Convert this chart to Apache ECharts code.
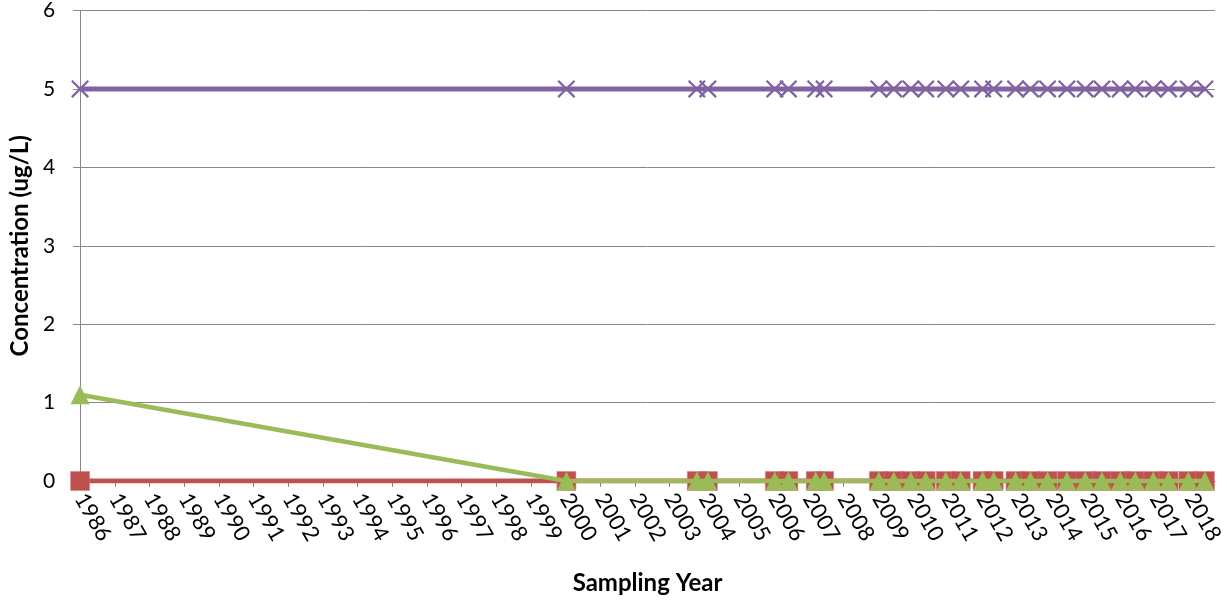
<!DOCTYPE html>
<html>
<head>
<meta charset="utf-8">
<script src="https://cdn.jsdelivr.net/npm/echarts@6/dist/echarts.min.js"></script>
<style>
html,body{margin:0;padding:0;background:#fff;}
#chart{width:1227px;height:601px;}
</style>
</head>
<body>
<div id="chart"></div>
<script>
// Sampling dates (decimal years)
const sampleDates = [1986.0, 2000.02, 2003.78, 2004.10, 2006.03, 2006.42, 2007.21, 2007.45,
  2009.03, 2009.46, 2009.95, 2010.38, 2010.96, 2011.39, 2012.02, 2012.34, 2012.97, 2013.40,
  2013.89, 2014.45, 2014.98, 2015.46, 2015.99, 2016.42, 2016.94, 2017.38, 2017.95, 2018.43];
// Series values (ug/L)
const purpleValues = [5,5,5,5,5,5,5,5, 5,5,5,5,5,5,5,5,5,5, 5,5,5,5,5,5,5,5,5,5];
const redValues    = [0,0,0,0,0,0,0,0, 0,0,0,0,0,0,0,0,0,0, 0,0,0,0,0,0,0,0,0,0];
const greenValues  = [1.1,0,0,0,0,0,0,0, 0,0,0,0,0,0,0,0,0,0, 0,0,0,0,0,0,0,0,0,0];
// Axis ranges / ticks
const xMin = 1986, xMax = 2018.72, yMin = 0, yMax = 6;

const pairs = vals => sampleDates.map((d, i) => [d, vals[i]]);
const FONT = 'Lato';
const xPath = 'path://M0,0.9 L0.9,0 L10,9.1 L9.1,10 Z M9.1,0 L10,0.9 L0.9,10 L0,9.1 Z';

const chart = echarts.init(document.getElementById('chart'), null, {renderer: 'canvas'});
chart.setOption({
  animation: false,
  backgroundColor: '#ffffff',
  grid: {left: 76, right: 12, top: 10, bottom: 120, containLabel: false},
  xAxis: {
    type: 'value', min: xMin, max: xMax, interval: 1,
    name: 'Sampling Year', nameLocation: 'middle', nameGap: 90,
    nameTextStyle: {fontFamily: FONT, fontSize: 24, fontWeight: 'bold', color: '#000'},
    axisLine: {show: true, lineStyle: {color: '#868686', width: 1}},
    axisTick: {show: true, inside: false, length: 6, lineStyle: {color: '#868686'}},
    splitLine: {show: false},
    axisLabel: {
      rotate: -60, margin: 14, fontFamily: FONT, fontSize: 22, color: '#000',
      showMaxLabel: false,
      formatter: v => (Math.abs(v - Math.round(v)) < 1e-6 ? String(Math.round(v)) : '')
    }
  },
  yAxis: {
    type: 'value', min: yMin, max: yMax, interval: 1,
    name: 'Concentration (ug/L)', nameLocation: 'middle', nameGap: 47,
    nameTextStyle: {fontFamily: FONT, fontSize: 24, fontWeight: 'bold', color: '#000'},
    axisLine: {show: true, lineStyle: {color: '#868686', width: 1}},
    axisTick: {show: true, inside: false, length: 7, lineStyle: {color: '#868686'}},
    splitLine: {show: true, lineStyle: {color: '#868686', width: 1}},
    axisLabel: {margin: 25, fontFamily: FONT, fontSize: 21, color: '#000'}
  },
  series: [
    {
      type: 'line', data: pairs(purpleValues), symbol: xPath, symbolSize: 18,
      lineStyle: {color: '#8064A2', width: 5},
      itemStyle: {color: '#8064A2'}, z: 2
    },
    {
      type: 'line', data: pairs(redValues), symbol: 'rect', symbolSize: 19,
      lineStyle: {color: '#C0504D', width: 5},
      itemStyle: {color: '#C0504D', borderColor: '#C88080', borderWidth: 0.5}, z: 3
    },
    {
      type: 'line', data: pairs(greenValues), symbol: 'triangle', symbolSize: 19,
      lineStyle: {color: '#9BBB59', width: 4.5},
      itemStyle: {color: '#9BBB59'}, z: 4
    }
  ]
});
</script>
</body>
</html>
